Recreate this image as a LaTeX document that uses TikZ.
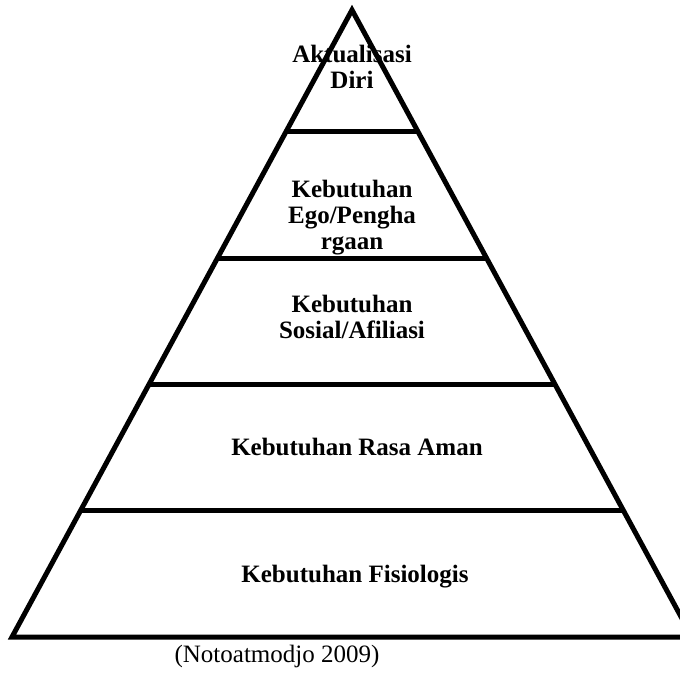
\documentclass[tikz,border=0pt]{standalone}
\usepackage{fontspec}
\setmainfont{Liberation Serif}
\usetikzlibrary{calc}
\tikzset{
    pyramid-edge/.style = {draw=black, line width=5pt},
    level-label/.style = {font=\rmfamily\fontsize{25}{26}\selectfont\bfseries, align=center, inner sep=0pt},
    source-label/.style = {font=\rmfamily\fontsize{25}{26}\selectfont, inner sep=0pt},
}

\begin{document}
\begin{tikzpicture}[x=1pt,y=-1pt]
\clip (0,0) rectangle (680,674);
\coordinate (apex) at (352,10);
\coordinate (base-left) at (12,637);
\coordinate (base-right) at (692,637);
\draw[pyramid-edge] (apex) -- (base-left) -- (base-right) -- cycle;
\foreach \t in {0.193,0.396,0.597,0.799}
    \draw[pyramid-edge] ($(apex)!\t!(base-left)$) -- ($(apex)!\t!(base-right)$);

\node[level-label] (aktualisasi) at (352,67) {Aktualisasi\\Diri};
\node[level-label] (ego) at (352,218) {Kebutuhan\\Ego/Pengha\\rgaan};
\node[level-label] (sosial) at (352,317) {Kebutuhan\\Sosial/Afiliasi};
\node[level-label, anchor=base] (aman) at (357,455) {Kebutuhan Rasa Aman};
\node[level-label, anchor=base] (fisiologis) at (355,582) {Kebutuhan Fisiologis};
\node[source-label, anchor=base] (sumber) at (277,662) {(Notoatmodjo 2009)};
\end{tikzpicture}
\end{document}
